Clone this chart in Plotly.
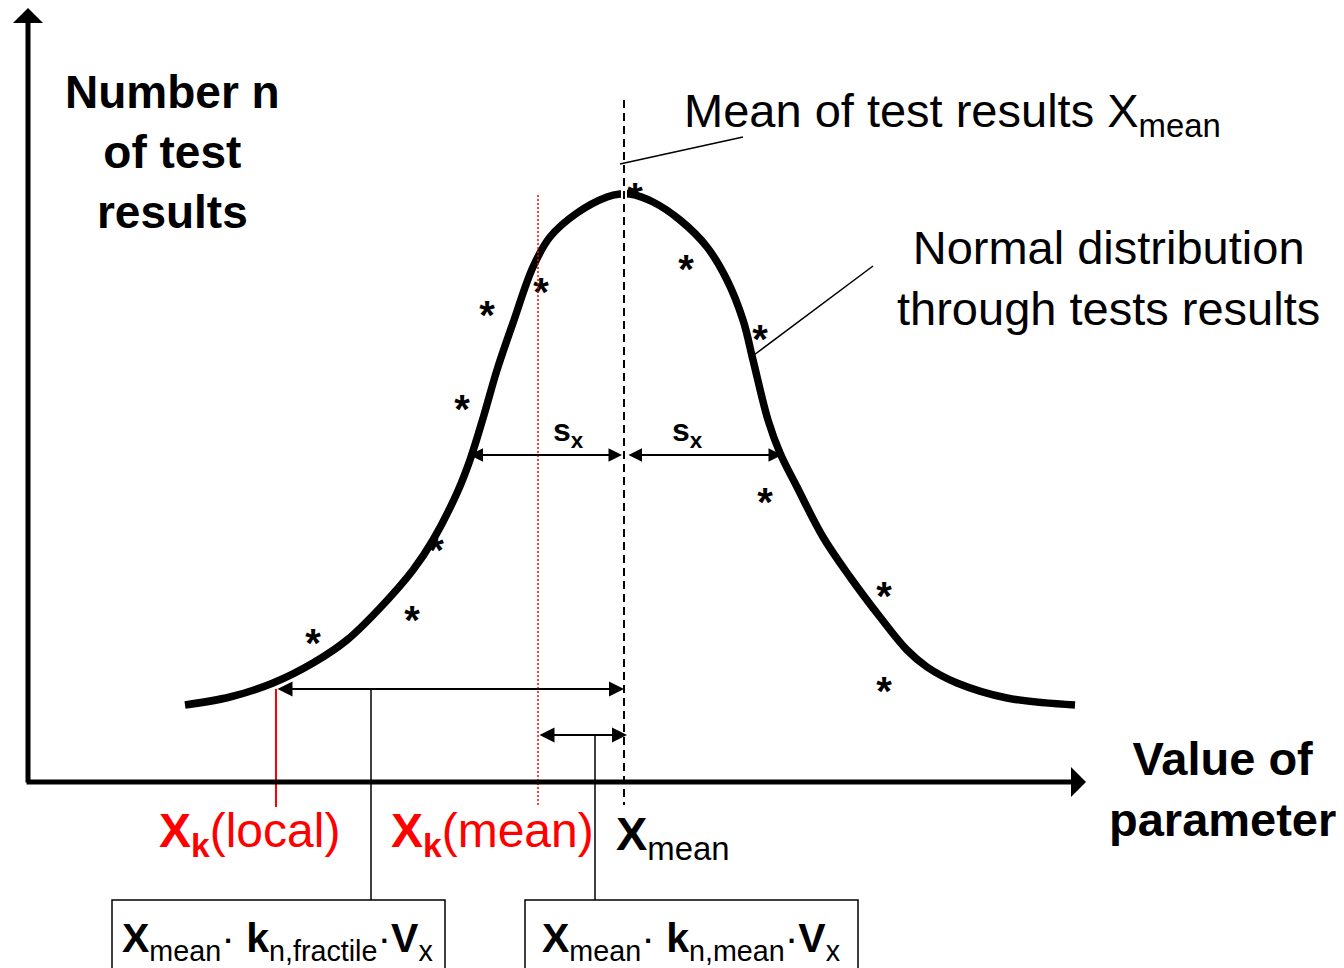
import plotly.graph_objects as go

# curve (page-like units, y grows downward)
curve_x = [185, 230, 273, 313, 347, 380, 413, 433, 457, 470, 484, 497, 513, 533, 550,
           577, 607, 620, 630, 653, 680, 707, 727, 743, 753, 768, 780, 797, 823, 850,
           880, 907, 927, 957, 1007, 1075]
curve_y = [705, 697, 683, 663, 640, 608, 570, 540, 493, 460, 415, 370, 323, 267, 237,
           213, 197, 194, 194, 202, 220, 247, 280, 320, 360, 420, 453, 487, 537, 577,
           617, 650, 667, 683, 698, 705]

# test results (asterisks)
star_x = [635, 686, 541, 487, 760, 462, 765, 436, 884, 412, 313, 884]
star_y = [191, 263, 286, 309, 333, 403, 496, 544, 590, 614, 637, 685]

# characteristic values on the parameter axis
x_local = 276
x_k_mean = 538
x_mean = 624
sx_left = 468
sx_right = 782

FONT = "Liberation Sans, Arial, sans-serif"
RED = "#ff0000"
STAR_SHIFT = 10  # '*' glyph sits high in its text box

fig = go.Figure()

fig.add_trace(go.Scatter(x=curve_x, y=curve_y, mode="lines",
                         line=dict(color="black", width=7.5, shape="spline", smoothing=1.0),
                         hoverinfo="skip"))

fig.add_trace(go.Scatter(x=star_x, y=[v + STAR_SHIFT for v in star_y], mode="text",
                         text=["*"] * len(star_x), textposition="middle center",
                         textfont=dict(family=FONT, size=40, color="black", weight="bold"),
                         hoverinfo="skip"))

shapes = []
# small gap in the curve at the mean line
shapes.append(dict(type="line", x0=x_mean, x1=x_mean, y0=185, y1=202,
                   line=dict(color="white", width=6), layer="above"))
shapes.append(dict(type="line", x0=x_mean, x1=x_mean, y0=100, y1=805,
                   line=dict(color="black", width=2, dash="8px,5px"), layer="above"))
shapes.append(dict(type="line", x0=x_k_mean, x1=x_k_mean, y0=195, y1=805,
                   line=dict(color=RED, width=1.5, dash="2px,2px"), layer="above"))
shapes.append(dict(type="line", x0=x_local, x1=x_local, y0=689, y1=807,
                   line=dict(color=RED, width=2), layer="above"))
# connectors to the boxes
shapes.append(dict(type="line", x0=371, x1=371, y0=689, y1=900,
                   line=dict(color="black", width=1.5)))
shapes.append(dict(type="line", x0=595, x1=595, y0=735, y1=900,
                   line=dict(color="black", width=1.5)))
# boxes
shapes.append(dict(type="rect", x0=112, x1=445, y0=900, y1=980,
                   line=dict(color="black", width=1.5)))
shapes.append(dict(type="rect", x0=525, x1=858, y0=900, y1=980,
                   line=dict(color="black", width=1.5)))
# leader lines
shapes.append(dict(type="line", x0=620, y0=164, x1=743, y1=137,
                   line=dict(color="black", width=1.5)))
shapes.append(dict(type="line", x0=754, y0=355, x1=873, y1=266,
                   line=dict(color="black", width=1.5)))


def arrow(x0, y0, x1, y1, width, size, head=2, both=False):
    fig.add_annotation(x=x1, y=y1, ax=x0, ay=y0, xref="x", yref="y", axref="x", ayref="y",
                       text="", showarrow=True, arrowhead=head, arrowsize=size,
                       arrowwidth=width, arrowcolor="black", standoff=0, startstandoff=0,
                       startarrowhead=head, startarrowsize=size,
                       arrowside="end+start" if both else "end")


# axes
arrow(25, 782, 1086, 782, 5, 1.0, head=1)
arrow(28, 784, 28, 8, 5, 1.0, head=1)
# standard deviation arrows
arrow(sx_left, 455, x_mean - 2, 455, 1.8, 1.5, both=True)
arrow(x_mean + 3, 455, sx_right, 455, 1.8, 1.5, both=True)
# fractile distances
arrow(x_local, 689, x_mean, 689, 2, 1.5, both=True)
arrow(x_k_mean, 735, x_mean + 3, 735, 2, 1.5, both=True)


def label(x, y, text, size, color="black", xanchor="center", align="center"):
    fig.add_annotation(x=x, y=y, xref="x", yref="y", text=text, showarrow=False,
                       xanchor=xanchor, yanchor="middle", align=align,
                       font=dict(family=FONT, size=size, color=color))


label(172, 152, "<b>Number n<br>of test<br>results</b>", 46)
label(682, 114, "Mean of test results X<sub>mean</sub>", 47, xanchor="left")
label(1108, 278, "Normal distribution<br>through tests results", 47)
label(1222, 789, "<b>Value of<br>parameter</b>", 47)
label(568, 432, "<b>s<sub>x</sub></b>", 32)
label(687, 432, "<b>s<sub>x</sub></b>", 32)
label(157, 834, "<b>X<sub>k</sub></b>(local)", 48, color=RED, xanchor="left")
label(389, 834, "<b>X<sub>k</sub></b>(mean)", 48, color=RED, xanchor="left")
label(614, 837, "<b>X</b><sub>mean</sub>", 47, xanchor="left")
label(120, 941, "<b>X</b><sub>mean</sub>· <b>k</b><sub>n,fractile</sub>·<b>V</b><sub>x</sub>", 41,
      xanchor="left")
label(540, 941, "<b>X</b><sub>mean</sub>· <b>k</b><sub>n,mean</sub>·<b>V</b><sub>x</sub>", 41,
      xanchor="left")

# the page body has an 8px margin, so the figure starts at (8, 8)
fig.update_layout(width=1336, height=960, margin=dict(l=0, r=0, t=0, b=0),
                  paper_bgcolor="white", plot_bgcolor="white", showlegend=False,
                  shapes=shapes,
                  xaxis=dict(range=[8, 1344], visible=False, fixedrange=True),
                  yaxis=dict(range=[968, 8], visible=False, fixedrange=True))

fig.write_html("out.html")
